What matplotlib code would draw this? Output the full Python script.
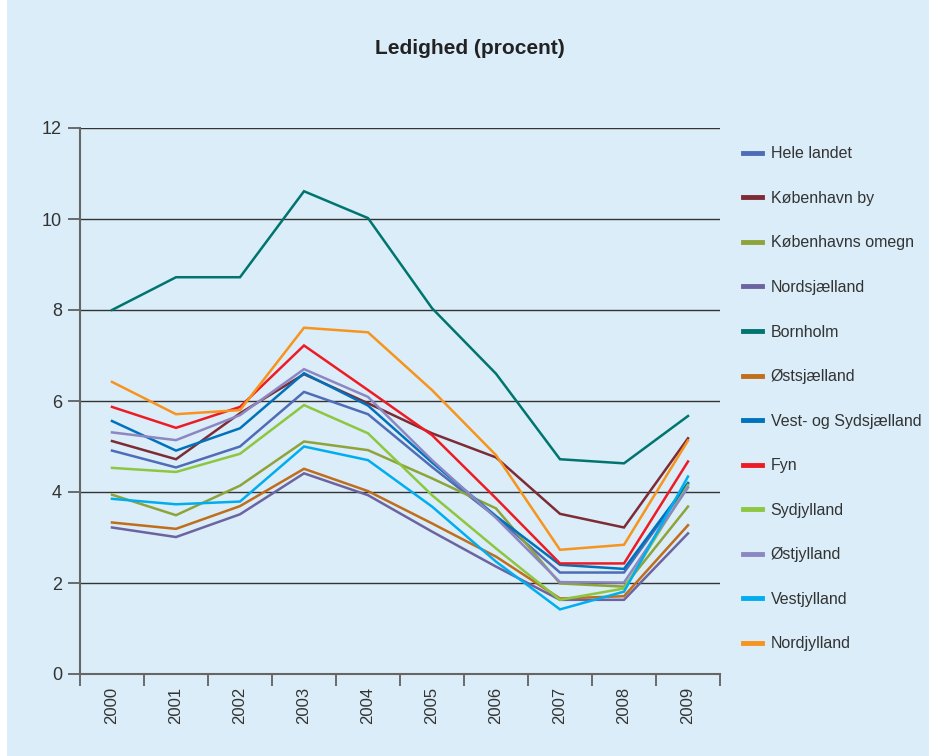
import matplotlib.pyplot as plt
from matplotlib import font_manager
from matplotlib.patches import Rectangle

years = ['2000', '2001', '2002', '2003', '2004', '2005', '2006', '2007', '2008', '2009']

regions = ['Hele landet', 'København by', 'Københavns omegn', 'Nordsjælland',
           'Bornholm', 'Østsjælland', 'Vest- og Sydsjælland', 'Fyn',
           'Sydjylland', 'Østjylland', 'Vestjylland', 'Nordjylland']

hele_landet = [4.91, 4.54, 5.00, 6.20, 5.71, 4.55, 3.45, 2.23, 2.23, 4.18]
kbh_by = [5.12, 4.72, 5.73, 6.59, 5.95, 5.29, 4.76, 3.52, 3.22, 5.18]
kbh_omegn = [3.94, 3.49, 4.14, 5.11, 4.92, 4.30, 3.64, 1.99, 1.92, 3.68]
nordsjaelland = [3.22, 3.01, 3.51, 4.41, 3.93, 3.13, 2.36, 1.63, 1.63, 3.09]
bornholm = [8.0, 8.72, 8.72, 10.61, 10.02, 8.04, 6.6, 4.72, 4.63, 5.67]
ostsjaelland = [3.33, 3.19, 3.69, 4.51, 4.02, 3.31, 2.58, 1.66, 1.71, 3.27]
vest_syd = [5.56, 4.91, 5.40, 6.61, 5.90, 4.65, 3.47, 2.40, 2.31, 4.20]
fyn = [5.87, 5.41, 5.87, 7.22, 6.24, 5.25, 3.86, 2.43, 2.43, 4.67]
sydjylland = [4.53, 4.44, 4.84, 5.91, 5.29, 3.93, 2.76, 1.63, 1.88, 4.15]
ostjylland = [5.31, 5.14, 5.69, 6.70, 6.09, 4.70, 3.43, 2.02, 2.01, 4.10]
vestjylland = [3.85, 3.73, 3.79, 5.00, 4.70, 3.68, 2.47, 1.42, 1.81, 4.34]
nordjylland = [6.42, 5.71, 5.80, 7.61, 7.51, 6.24, 4.81, 2.73, 2.84, 5.13]

series = [hele_landet, kbh_by, kbh_omegn, nordsjaelland, bornholm, ostsjaelland,
          vest_syd, fyn, sydjylland, ostjylland, vestjylland, nordjylland]

colors = ['#4f6db6', '#7d2b35', '#8fa33b', '#6b64a0', '#00756f', '#c06e1c',
          '#0072bc', '#ed1c24', '#8dc63f', '#8c87c2', '#00aeef', '#f7941d']

# narrow sans if present
names = {f.name for f in font_manager.fontManager.ttflist}
narrow = 'Liberation Sans Narrow' if 'Liberation Sans Narrow' in names else 'Liberation Sans'
plt.rcParams['font.family'] = [narrow, 'DejaVu Sans']

bg = '#daedf8'
fig = plt.figure(figsize=(9.33, 7.56), dpi=100, facecolor='white')
fig.patches.append(Rectangle((7 / 933, 0), 922 / 933, 1, transform=fig.transFigure,
                             facecolor=bg, edgecolor='none', zorder=-5))

ax = fig.add_axes([80 / 933, 1 - 674 / 756, 640 / 933, 546 / 756])
ax.set_facecolor(bg)

x = list(range(len(years)))
for name, vals, c in zip(regions, series, colors):
    ax.plot(x, vals, color=c, linewidth=1.8, label=name, solid_joinstyle='miter')

ax.set_xlim(-0.5, len(years) - 0.5)
ax.set_ylim(0, 12)
ax.set_yticks(range(0, 13, 2))
ax.set_yticklabels([str(v) for v in range(0, 13, 2)], fontsize=13, color='#333333')
ax.set_xticks([i - 0.5 for i in range(len(years) + 1)])
ax.set_xticklabels([])
ax.set_xticks(x, minor=True)
ax.set_xticklabels(years, minor=True, rotation=90, fontsize=12, color='#333333')
ax.tick_params(axis='x', which='major', length=8.6, width=1.2, color='#555555', direction='out')
ax.tick_params(axis='x', which='minor', length=0, pad=9)
ax.tick_params(axis='y', length=8.6, width=1.2, color='#555555', pad=4.3)

ax.grid(axis='y', color='#333333', linewidth=1.0)
ax.set_axisbelow(True)
for s in ['top', 'right']:
    ax.spines[s].set_visible(False)
ax.spines['left'].set_color('#666666')
ax.spines['left'].set_linewidth(1.5)
ax.spines['bottom'].set_color('#666666')
ax.spines['bottom'].set_linewidth(1.5)
ax.spines['left'].set_bounds(0, 12)

fig.text(470 / 933, 1 - 48 / 756, 'Ledighed (procent)', ha='center', va='center',
         fontsize=15, fontweight='bold', color='#222222', family=['Liberation Sans', 'DejaVu Sans'])

leg = fig.legend(loc='upper left', bbox_to_anchor=(737 / 933, 1 - 140 / 756),
                 frameon=False, fontsize=11.5, handlelength=1.15, handletextpad=0.56,
                 labelspacing=1.85, borderaxespad=0)
for line in leg.get_lines():
    line.set_linewidth(3.5)
for t in leg.get_texts():
    t.set_color('#333333')

fig.savefig('out.png', dpi=100, facecolor='white')
